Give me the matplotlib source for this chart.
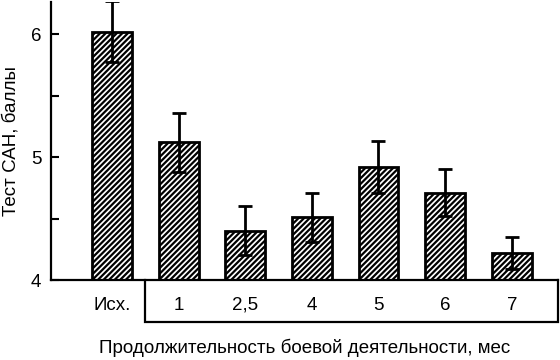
import matplotlib
matplotlib.use("Agg")
import matplotlib.pyplot as plt
import numpy as np

plt.rcParams['font.family'] = ['Liberation Sans', 'DejaVu Sans']
plt.rcParams['hatch.linewidth'] = 1.6

# data
labels = ['Исх.', '1', '2,5', '4', '5', '6', '7']
means = [6.02, 5.12, 4.40, 4.51, 4.92, 4.71, 4.22]
errs = [0.25, 0.24, 0.20, 0.20, 0.21, 0.19, 0.13]

fig = plt.figure(figsize=(5.6, 3.6), dpi=100)
ax = fig.add_axes([0.091, 0.222, 0.905, 0.772])

x = np.arange(len(labels))
ax.bar(x, [m - 4 for m in means], bottom=4, width=0.6, color='white',
       edgecolor='black', linewidth=2, hatch='//////', zorder=2)
ax.errorbar(x, means, yerr=errs, fmt='none', ecolor='black',
            elinewidth=2, capsize=4.7, capthick=2, zorder=3)

ax.set_xlim(-0.915, 6.69)
ax.set_ylim(4, 6.26)
ax.set_yticks([4, 5, 6])
ax.set_yticks([4.5, 5.5], minor=True)
ax.tick_params(axis='y', which='both', direction='in', length=5.5, width=1.5,
               labelsize=13.5, pad=7)
ax.set_xticks(x)
ax.set_xticklabels(labels)
ax.tick_params(axis='x', length=0, labelsize=13.5, pad=12)

for s in ['top', 'right']:
    ax.spines[s].set_visible(False)
for s in ['left', 'bottom']:
    ax.spines[s].set_linewidth(1.6)

# box around the months labels
bx0, bx1, by = 0.49, 6.69, 3.66
ax.plot([bx0, bx0, bx1, bx1], [4, by, by, 4], color='black', lw=1.6,
        clip_on=False, solid_joinstyle='miter')

ax.set_ylabel('Тест САН, баллы', fontsize=13.5, labelpad=8)
ax.set_xlabel('Продолжительность боевой деятельности, мес', fontsize=13.5, labelpad=18)

fig.savefig('out.png', dpi=100)
